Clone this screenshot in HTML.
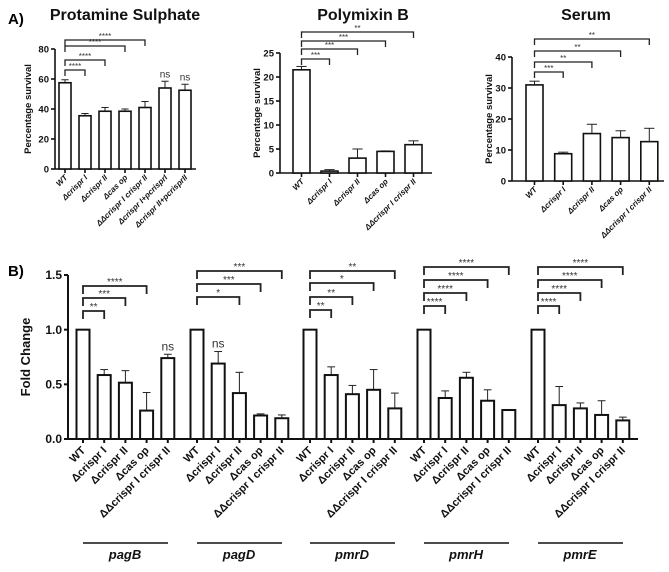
<!DOCTYPE html>
<html><head><meta charset="utf-8"><style>
html,body{margin:0;padding:0;background:#fff;}
svg{display:block;font-family:"Liberation Sans",sans-serif;}
</style></head><body>
<svg id="s" width="669" height="572" viewBox="0 0 669 572" xmlns="http://www.w3.org/2000/svg">
<text x="8" y="24" font-size="15" font-weight="bold">A)</text>
<text x="8" y="276" font-size="15" font-weight="bold">B)</text>
</svg>
<script>
// ---- Data ----
const protCats = ["WT","Δcrispr I","Δcrispr II","Δcas op","ΔΔcrispr I crispr II","Δcrispr I+pcrisprI","Δcrispr II+pcrisprII"];
const protVals = [57.5,35.5,38.5,38.5,41,54,52.5];
const protErr = [59.5,37,41,40,45,58.5,56.5];
const protTicks = [0,20,40,60,80];
const protSig = [["****",1],["****",2],["****",3],["****",4]];
const protTop = ["","","","","","ns","ns"];

const polyCats = ["WT","Δcrispr I","Δcrispr II","Δcas op","ΔΔcrispr I crispr II"];
const polyVals = [21.5,0.4,3.1,4.5,5.9];
const polyErr = [22.2,0.7,5.0,4.6,6.7];
const polyTicks = [0,5,10,15,20,25];
const polySig = [["***",1],["***",2],["***",3],["**",4]];

const serCats = ["WT","Δcrispr I","Δcrispr II","Δcas op","ΔΔcrispr I crispr II"];
const serVals = [31,8.8,15.3,14,12.7];
const serErr = [32.2,9.3,18.3,16.2,17];
const serTicks = [0,10,20,30,40];
const serSig = [["***",1],["**",2],["**",3],["**",4]];

const genes = ["pagB","pagD","pmrD","pmrH","pmrE"];
const foldCats = ["WT","Δcrispr I","Δcrispr II","Δcas op","ΔΔcrispr I crispr II"];
const foldVals = [[1,0.585,0.515,0.26,0.74],[1,0.69,0.42,0.215,0.19],[1,0.585,0.41,0.45,0.28],[1,0.375,0.56,0.35,0.265],[1,0.31,0.28,0.22,0.17]];
const foldErr = [[1,0.635,0.625,0.425,0.775],[1,0.8,0.61,0.23,0.22],[1,0.66,0.49,0.635,0.42],[1,0.44,0.61,0.45,0.27],[1,0.48,0.33,0.35,0.2]];
const foldSig = [[["**",1],["***",2],["****",3]],[["*",2],["***",3],["***",4]],[["**",1],["**",2],["*",3],["**",4]],[["****",1],["****",2],["****",3],["****",4]],[["****",1],["****",2],["****",3],["****",4]]];
const foldTop = [["","","","","ns"],["","ns","","",""],["","","","",""],["","","","",""],["","","","",""]];
const foldTicks = [0,0.5,1.0,1.5];
const foldTickLabels = ["0.0","0.5","1.0","1.5"];

const S = document.getElementById('s');
const NS = "http://www.w3.org/2000/svg";
function mk(tag, attrs, parent){const e=document.createElementNS(NS,tag);for(const k in attrs)e.setAttribute(k,attrs[k]);(parent||S).appendChild(e);return e;}
function txt(x,y,str,attrs,parent){const e=mk('text',Object.assign({x:x,y:y},attrs),parent);e.textContent=str;return e;}

function panel(o){
  const g=mk('g',{});
  
  
  const yS=v=>o.y0-(v-o.ymin)/(o.ymax-o.ymin)*(o.y0-o.y1);
  const xS=i=>o.x0+o.dx*i;
  const ax=mk('line',{x1:o.ax,y1:yS(o.ymax),x2:o.ax,y2:o.y0,stroke:'#111','stroke-width':o.lw},g);
  
  
  const bx=mk('line',{x1:o.ax,y1:o.y0,x2:o.axEnd,y2:o.y0,stroke:'#111','stroke-width':o.lw},g);
  
  
  o.ticks.forEach((t,i)=>{
    mk('line',{x1:o.ax-4,y1:yS(t),x2:o.ax,y2:yS(t),stroke:'#111','stroke-width':o.lw},g);
    const tl=txt(o.ax-6,yS(t)+o.tfs*0.35,o.tickLabels?o.tickLabels[i]:String(t),{'font-size':o.tfs,'font-weight':'bold','text-anchor':'end',fill:'#111'},g);
    
    
  });
  o.vals.forEach((v,i)=>{
    const cx=xS(i);
    const er=o.err[i];
    if(er>v){
      mk('line',{x1:cx,y1:yS(v),x2:cx,y2:yS(er),stroke:'#222','stroke-width':1},g);
      mk('line',{x1:cx-o.bw*0.3,y1:yS(er),x2:cx+o.bw*0.3,y2:yS(er),stroke:'#222','stroke-width':1},g);
    }
    const b=mk('rect',{x:cx-o.bw/2,y:yS(v),width:o.bw,height:o.y0-yS(v),fill:'#fff',stroke:'#111','stroke-width':o.lw},g);
    
    
    mk('line',{x1:cx,y1:o.y0,x2:cx,y2:o.y0+4,stroke:'#111','stroke-width':o.lw},g);
    const l=txt(cx+3,o.y0+o.lfs+1,o.cats[i],{'font-size':o.lfs,'font-weight':'bold','font-style':o.italic?'italic':'normal','text-anchor':'end',fill:'#111',transform:`rotate(-45 ${cx+3} ${o.y0+o.lfs+1})`},g);
    
    
    if(o.top && o.top[i]){
      const t=txt(cx,yS(er)-4,o.top[i],{'font-size':o.sfs+2,'text-anchor':'middle',fill:'#333'},g);
      
      
    }
  });
  o.sig.forEach((s,k)=>{
    const y=o.sigY[k];
    const x1=xS(0)-o.sigOff, x2=xS(s[1]);
    mk('polyline',{points:`${x1},${y+o.sigDrop} ${x1},${y} ${x2},${y} ${x2},${y+o.sigDrop}`,fill:'none',stroke:'#222','stroke-width':o.sigLw||1.3},g);
    const t=txt((x1+x2)/2,y-1,s[0],{'font-size':o.sfs,'text-anchor':'middle',fill:'#333'},g);
    
    
  });
  if(o.ylabel){
    const yl=txt(o.ylx,(yS(o.ymax)+o.y0)/2,o.ylabel,{'font-size':o.ylfs,'font-weight':'bold','text-anchor':'middle',fill:'#111',transform:`rotate(-90 ${o.ylx} ${(yS(o.ymax)+o.y0)/2})`},g);
    
    
  }
  if(o.title){
    const t=txt(o.tx,20,o.title,{'font-size':16,'font-weight':'bold','text-anchor':'middle',fill:'#111'},g);
    
    
  }
}

const Abase={lw:1.6,tfs:9.5,lfs:8,sfs:8,italic:true,ylfs:9.5,sigOff:0,sigDrop:6};
panel(Object.assign({},Abase,{name:'protamine-chart',cats:protCats,vals:protVals,err:protErr,ticks:protTicks,sig:protSig,top:protTop,
  ymin:0,ymax:80,y0:169,y1:49,ax:55,axEnd:196,x0:65,dx:20,bw:12,sigY:[70,60,46,40],ylabel:'Percentage survival',ylx:31,title:'Protamine Sulphate',tx:125}));
panel(Object.assign({},Abase,{name:'polymixin-chart',cats:polyCats,vals:polyVals,err:polyErr,ticks:polyTicks,sig:polySig,
  ymin:0,ymax:25,y0:173,y1:53,ax:280,axEnd:432,x0:301.5,dx:28,bw:17,sigY:[59,49,41,32],ylabel:'Percentage survival',ylx:260,title:'Polymixin B',tx:363}));
panel(Object.assign({},Abase,{name:'serum-chart',cats:serCats,vals:serVals,err:serErr,ticks:serTicks,sig:serSig,
  ymin:0,ymax:40,y0:181,y1:57,ax:512,axEnd:664,x0:534.5,dx:28.7,bw:17,sigY:[72,62,51,39],ylabel:'Percentage survival',ylx:492,title:'Serum',tx:586}));

(function(){
  const gx0=[83,197,310,424,538];
  const sigYs=[[311,298,286],[297,284,271],[310,297,283,271],[306,293,280,267],[306,293,280,267]];
  genes.forEach((gname,gi)=>{
    panel({name:'fold-'+gname,cats:foldCats,vals:foldVals[gi],err:foldErr[gi],ticks:gi===0?foldTicks:[],tickLabels:foldTickLabels,
      sig:foldSig[gi],top:foldTop[gi],ymin:0,ymax:1.5,y0:439,y1:275,ax:68,axEnd:gi===4?638:68,x0:gx0[gi],dx:21.2,bw:13,
      lw:2,tfs:12,lfs:11,sfs:10,italic:false,sigY:sigYs[gi],sigOff:0,sigDrop:8,sigLw:1.8,ylabel:gi===0?'Fold Change':null,ylx:30,ylfs:13});
    const l=mk('line',{x1:gx0[gi],y1:543,x2:gx0[gi]+85,y2:543,stroke:'#111','stroke-width':1.6});
    
    
    const t=txt(gx0[gi]+42,559,gname,{'font-size':13,'font-weight':'bold','font-style':'italic','text-anchor':'middle',fill:'#111'});
    
    
  });
})();
</script>
</body></html>
